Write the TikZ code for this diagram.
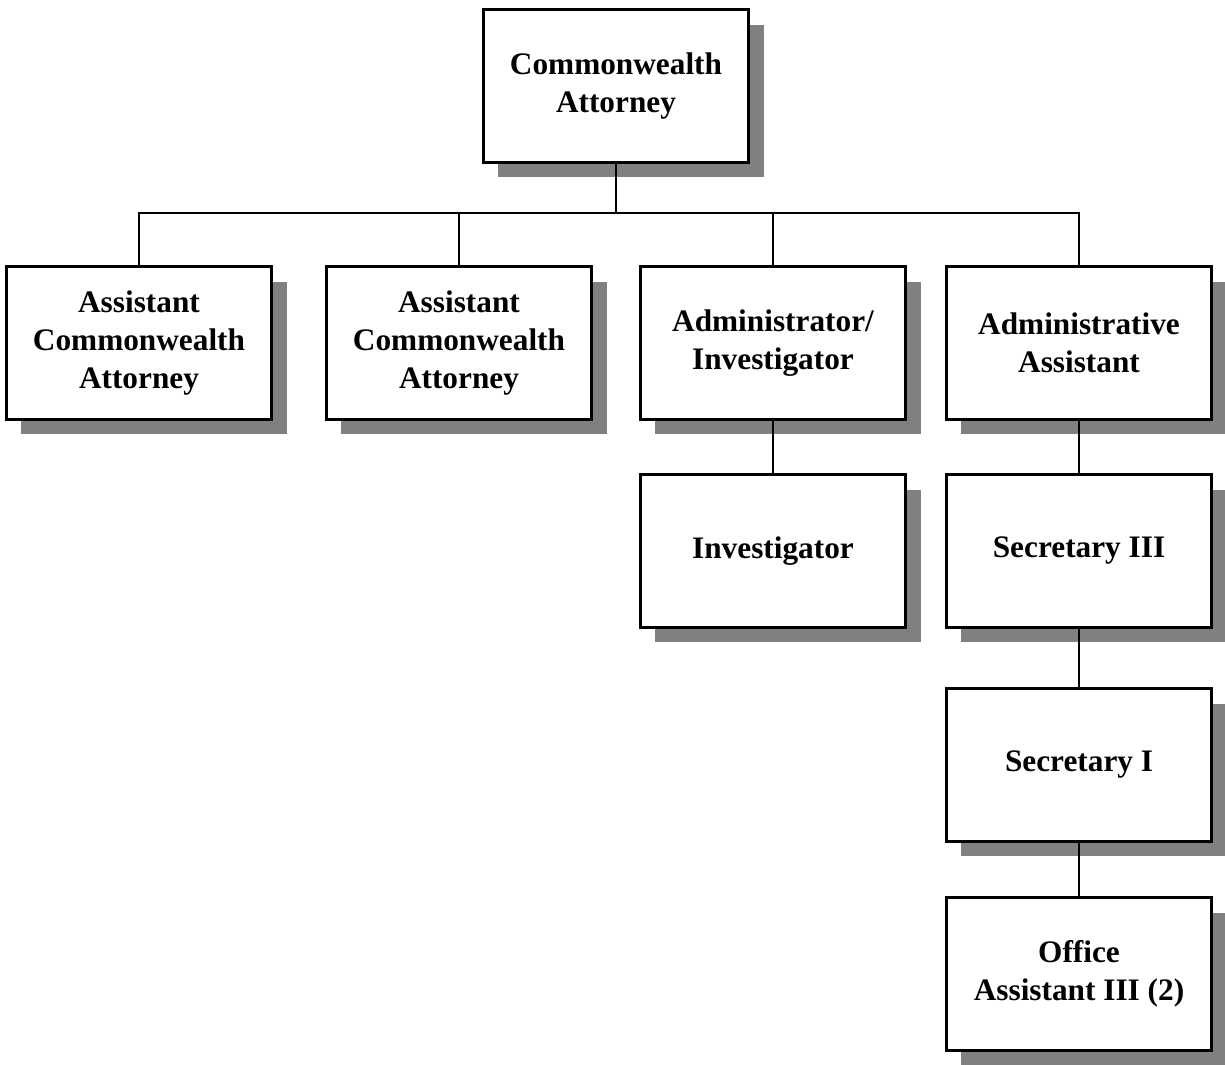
\documentclass[tikz,border=0pt]{standalone}
\usepackage{fontspec}
\setmainfont{Liberation Serif}
\usepackage{tikz}
\usetikzlibrary{shadows}
\definecolor{cshadow}{HTML}{808080}

\begin{document}
\begin{tikzpicture}[x=0.01cm, y=-0.01cm,
    post/.style={draw, line width=0.85pt, fill=white, align=center,
      minimum width=2.65cm, minimum height=1.52cm, inner sep=2pt,
      font=\fontsize{8.9}{10.7}\selectfont\bfseries,
      drop shadow={shadow xshift=0.15cm, shadow yshift=-0.15cm, fill=cshadow, opacity=1}},
    link/.style={line width=0.6pt}]
  \useasboundingbox (0,0) rectangle (1225,1064);
  % boxes
  \node[post] (ca) at (616,86) {Commonwealth\\Attorney};
  \node[post] (aca1) at (139,343) {Assistant\\Commonwealth\\Attorney};
  \node[post] (aca2) at (459,343) {Assistant\\Commonwealth\\Attorney};
  \node[post] (admin) at (773,343) {Administrator/\\Investigator};
  \node[post] (aa) at (1079,343) {Administrative\\Assistant};
  \node[post] (inv) at (773,551) {Investigator};
  \node[post] (sec3) at (1079,551) {Secretary III};
  \node[post] (sec1) at (1079,765) {Secretary I};
  \node[post] (oa) at (1079,974) {Office\\Assistant III (2)};
  % lines
  \coordinate (bus) at (616,213);
  \draw[link] (ca) -- (bus);
  \foreach \n in {aca1,aca2,admin,aa}
    \draw[link] (bus) -| (\n.north);
  \draw[link] (admin) -- (inv);
  \draw[link] (aa) -- (sec3);
  \draw[link] (sec3) -- (sec1);
  \draw[link] (sec1) -- (oa);
\end{tikzpicture}
\end{document}
